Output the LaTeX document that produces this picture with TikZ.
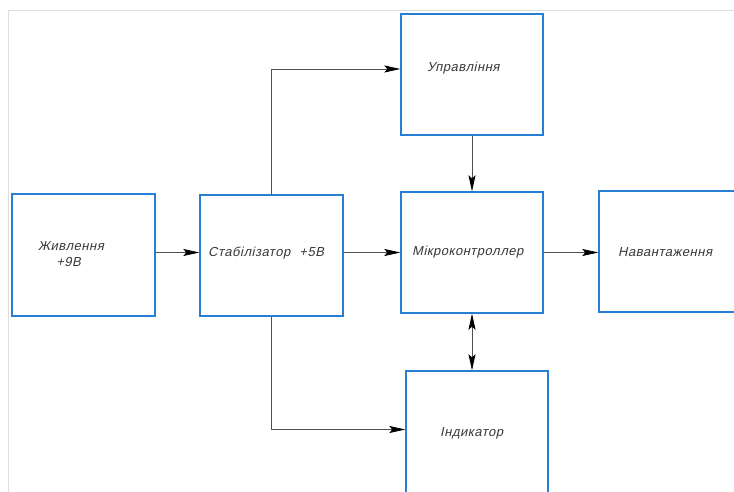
\documentclass[tikz,border=0pt]{standalone}
\usepackage{fontspec}
\usetikzlibrary{arrows.meta}
\newfontfamily\gost[FakeSlant=0.22,LetterSpace=4]{Liberation Sans}
\definecolor{boxblue}{RGB}{38,126,214}
\definecolor{linegray}{RGB}{80,80,80}
\definecolor{framegray}{RGB}{222,222,222}
\definecolor{txtgray}{RGB}{55,55,55}
\tikzset{
  blockbox/.style={draw=boxblue, line width=1.4pt, minimum width=142pt, minimum height=121pt, inner sep=0pt},
  conn/.style={draw=linegray, line width=0.7pt},
  tip/.tip={Stealth[length=16pt,width=7pt,inset=3pt,black,fill=black]},
  arr/.style={conn, -tip},
  darr/.style={conn, tip-tip},
  lbl/.style={font=\gost\fontsize{13}{16}\selectfont, text=txtgray, inner sep=0pt, anchor=west}
}
\begin{document}
\begin{tikzpicture}[x=1pt,y=-1pt]
\useasboundingbox (0,0) rectangle (734,492);
\clip (0,0) rectangle (734,492);
\fill[white] (0,0) rectangle (734,492);
% faint frame
\draw[framegray, line width=0.8pt] (8,500) -- (8,10) -- (740,10);
% blocks
\node[blockbox, minimum width=143pt, minimum height=122pt] (zhyv) at (83.5,255) {};
\node[blockbox, minimum width=143pt, minimum height=121pt] (stab) at (271.5,255.5) {};
\node[blockbox] (upr) at (472,74.5) {};
\node[blockbox] (mikro) at (472,252.5) {};
\node[blockbox, minimum width=170pt] (navan) at (684,251.5) {};
\node[blockbox, minimum height=150pt] (indik) at (477,446) {};
% labels
\node[lbl, align=left] (tzhyv) at (38,254) {Живлення\\\hspace*{1.4em}+9В};
\node[lbl] (tstab) at (208,253) {Стабілізатор\hspace{0.7em}+5В};
\node[lbl] (tupr) at (427,68) {Управління};
\node[lbl] (tmikro) at (412,252) {Мікроконтроллер};
\node[lbl] (tnavan) at (618,252) {Навантаження};
\node[lbl] (tindik) at (440,433) {Індикатор};
% connectors
\coordinate (c1) at ([yshift=5.5pt]upr.west);
\coordinate (c2) at ([yshift=16.5pt]indik.west);
\draw[arr] (zhyv.east |- mikro.west) -- (stab.west |- mikro.west);
\draw[arr] (stab.east |- mikro.west) -- (mikro.west);
\draw[arr] (mikro.east) -- (mikro.east -| navan.west);
\draw[arr] (stab.north) -- (stab.north |- c1) -- (c1);
\draw[arr] (upr.south) -- (mikro.north);
\draw[darr] (mikro.south) -- (mikro.south |- indik.north);
\draw[arr] (stab.south) -- (stab.south |- c2) -- (c2);
\end{tikzpicture}
\end{document}
